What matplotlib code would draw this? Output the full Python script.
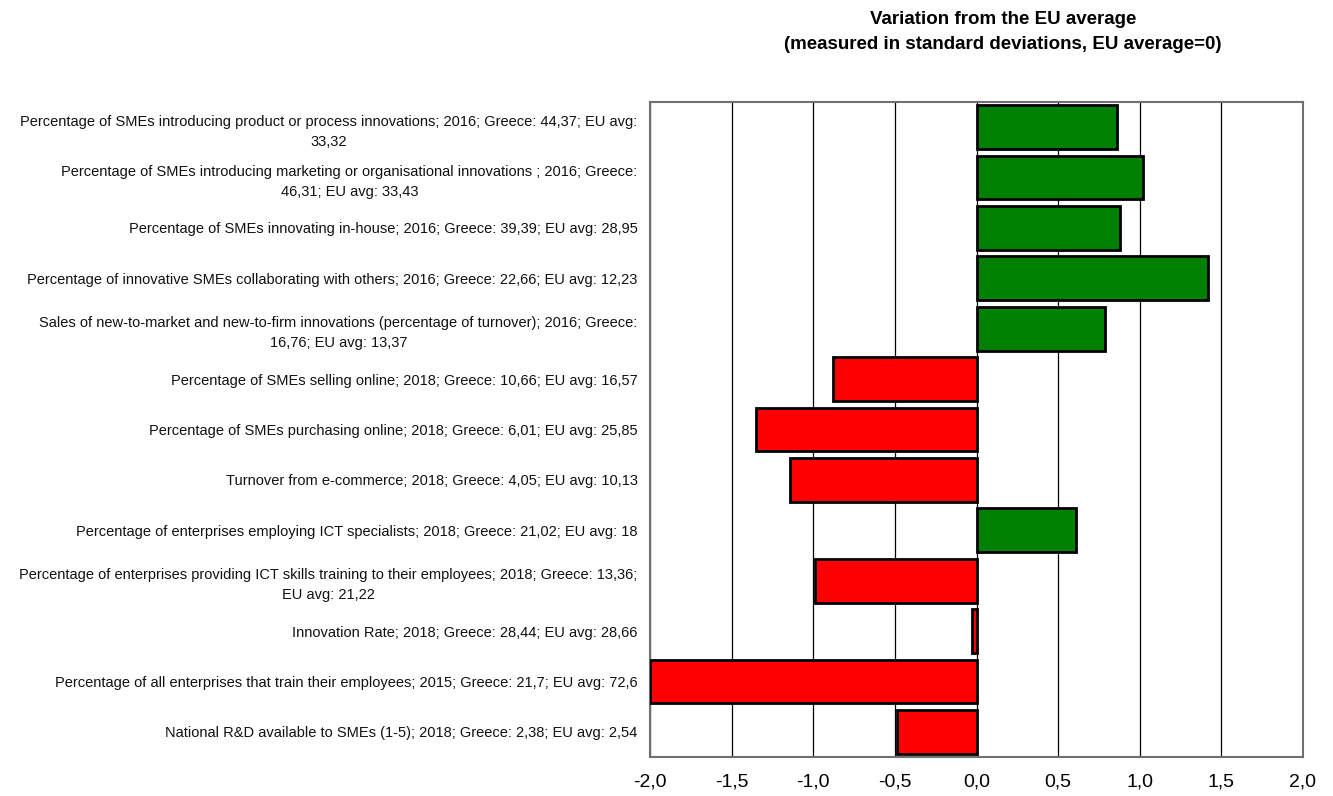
import matplotlib.pyplot as plt
from matplotlib.ticker import FuncFormatter

plt.rcParams['font.family'] = ['Liberation Sans Narrow', 'Liberation Sans', 'DejaVu Sans']

# Indicators (top to bottom)
labels = [
    "Percentage of SMEs introducing product or process innovations; 2016; Greece: 44,37; EU avg:\n33,32",
    "Percentage of SMEs introducing marketing or organisational innovations ; 2016; Greece:\n46,31; EU avg: 33,43",
    "Percentage of SMEs innovating in-house; 2016; Greece: 39,39; EU avg: 28,95",
    "Percentage of innovative SMEs collaborating with others; 2016; Greece: 22,66; EU avg: 12,23",
    "Sales of new-to-market and new-to-firm innovations (percentage of turnover); 2016; Greece:\n16,76; EU avg: 13,37",
    "Percentage of SMEs selling online; 2018; Greece: 10,66; EU avg: 16,57",
    "Percentage of SMEs purchasing online; 2018; Greece: 6,01; EU avg: 25,85",
    "Turnover from e-commerce; 2018; Greece: 4,05; EU avg: 10,13",
    "Percentage of enterprises employing ICT specialists; 2018; Greece: 21,02; EU avg: 18",
    "Percentage of enterprises providing ICT skills training to their employees; 2018; Greece: 13,36;\nEU avg: 21,22",
    "Innovation Rate; 2018; Greece: 28,44; EU avg: 28,66",
    "Percentage of all enterprises that train their employees; 2015; Greece: 21,7; EU avg: 72,6",
    "National R&D available to SMEs (1-5); 2018; Greece: 2,38; EU avg: 2,54",
]

# Variation from EU average in standard deviations
values = [0.86, 1.02, 0.88, 1.42, 0.79, -0.88, -1.35, -1.14, 0.61, -0.99, -0.03, -2.0, -0.49]

colors = ['#008000' if v > 0 else '#FF0000' for v in values]

fig = plt.figure(figsize=(13.33, 7.96), dpi=100)
ax = fig.add_axes([650/1333, 1 - 757/796, 653/1333, 655/796])

ypos = list(range(len(values)))
ax.barh(ypos, values, height=0.87, color=colors, edgecolor='black', linewidth=2, zorder=3)

ax.set_xlim(-2.0, 2.0)
ax.set_ylim(len(values) - 0.5, -0.5)
ax.set_xticks([-2.0, -1.5, -1.0, -0.5, 0.0, 0.5, 1.0, 1.5, 2.0])
ax.xaxis.set_major_formatter(FuncFormatter(lambda x, p: f"{x:.1f}".replace('.', ',')))
ax.tick_params(axis='x', length=0, pad=12, labelsize=14)
ax.grid(axis='x', color='black', linewidth=0.9, zorder=0)

ax.set_yticks(ypos)
ax.set_yticklabels(labels, fontsize=10.5, multialignment='center', color='#111111',
                   linespacing=1.55)
ax.tick_params(axis='y', length=0, pad=9)

for s in ax.spines.values():
    s.set_color('#707070')
    s.set_linewidth(1.5)

fig.text(1003/1333, 1 - 32/796,
         "Variation from the EU average\n(measured in standard deviations, EU average=0)",
         ha='center', va='center', fontsize=13.5, fontweight='bold', linespacing=1.6)

fig.savefig("out.png", dpi=100)
